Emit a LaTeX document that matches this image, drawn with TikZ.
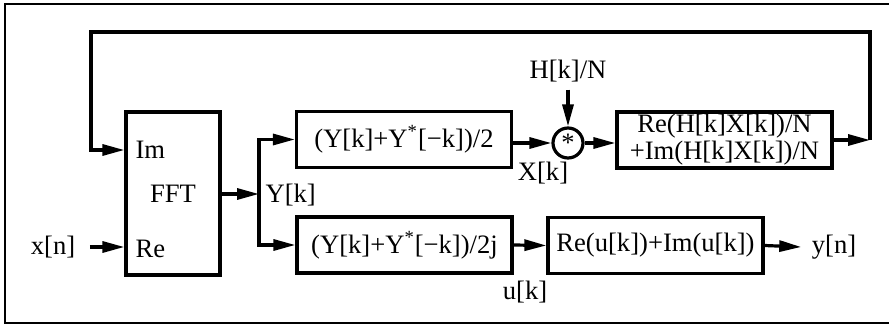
\documentclass[tikz,border=0pt]{standalone}
\usepackage{fontspec}
\setmainfont{Liberation Serif}
\usetikzlibrary{arrows.meta}
\begin{document}
\begin{tikzpicture}[x=0.5pt,y=-0.5pt, line width=1.6pt,
  >={Triangle[length=11pt,width=5.5pt]},
  box/.style={draw, rectangle, inner sep=0pt, minimum width=107.5pt, minimum height=28pt},
  lbl/.style={inner sep=0pt},
  font=\fontsize{13.3}{13.5}\selectfont]
\useasboundingbox (0,0) rectangle (889,326);
\draw[line width=1.4pt] (895,4) -- (5,4) -- (5,323) -- (895,323);

\node[draw, rectangle, inner sep=0pt, minimum width=47pt, minimum height=81.5pt] (fft) at (173,193.5) {FFT};
\node[lbl, anchor=west] (im) at (134,150) {Im};
\node[lbl, anchor=west] (re) at (134,249) {Re};
\node[lbl] (xn) at (53,247) {x[n]};

\node[box] (up) at (404,139.5) {(Y[k]+Y\textsuperscript{*}[−k])/2};
\node[box] (lo) at (404.5,245) {(Y[k]+Y\textsuperscript{*}[−k])/2j};
\node[draw, circle, inner sep=0pt, minimum size=15pt] (mul) at (568,143) {\raisebox{-0.25em}{*}};
\node[box, align=center] (rb) at (724.5,140) {Re(H[k]X[k])/N\\+Im(H[k]X[k])/N};
\node[box] (ru) at (655.5,245.5) {Re(u[k])+Im(u[k])};

\node[lbl, anchor=west] (yk) at (264,195) {Y[k]};
\node[lbl] (xk) at (543,173) {X[k]};
\node[lbl] (hn) at (568,71) {H[k]/N};
\node[lbl] (uk) at (525,292) {u[k]};
\node[lbl] (yn) at (834,247) {y[n]};

\coordinate (split) at (259,194);
\coordinate (fbR) at (870,32);
\coordinate (fbL) at (91,32);

\draw[->] ([xshift=6.5pt]xn.east) -- (xn.east -| fft.west);
\draw[->] (fft.east |- split) -- (split);
\draw[->] (split) |- (up.west);
\draw[->] (split) |- (lo.west);
\draw[->] (up.east |- mul.west) -- (mul.west);
\draw[->] ([yshift=-3pt]hn.south) -- (mul.north);
\draw[->] (mul.east) -- (mul.east -| rb.west);
\draw[->] (lo.east) -- (ru.west);
\draw[->] (ru.east) -- ([xshift=-4.5pt]yn.west);
\draw[->] (rb.east) -- (rb.east -| fbR);
\draw[->] (rb.east -| fbR) -- (fbR) -- (fbL) |- (fft.west |- im);
\end{tikzpicture}
\end{document}
